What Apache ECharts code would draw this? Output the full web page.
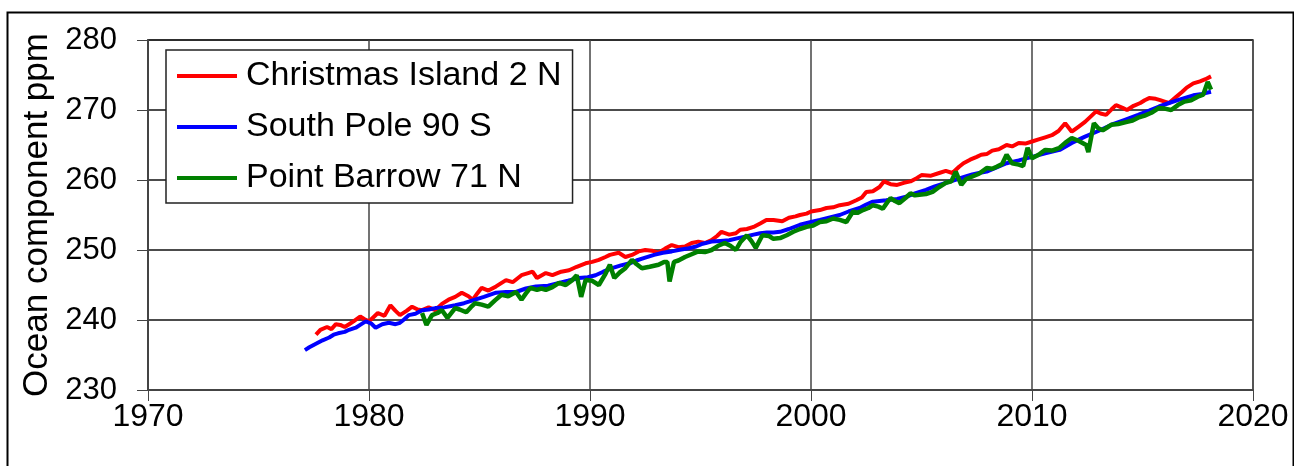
<!DOCTYPE html>
<html>
<head>
<meta charset="utf-8">
<script src="https://cdn.jsdelivr.net/npm/echarts@6/dist/echarts.min.js"></script>
<style>
html,body{margin:0;padding:0;background:#fff;}
#chart{width:1294px;height:466px;}
</style>
</head>
<body>
<div id="chart"></div>
<script>
const seriesNames = ['Christmas Island 2 N', 'South Pole 90 S', 'Point Barrow 71 N'];
const xTicks = [1970, 1980, 1990, 2000, 2010, 2020];
const yTicks = [230, 240, 250, 260, 270, 280];

const christmasIsland = [
[1977.6,237.9],[1977.8,238.6],[1978.1,239.0],[1978.3,238.7],[1978.5,239.4],[1978.7,239.3],[1978.9,239.0],
[1979.1,239.4],[1979.3,239.8],[1979.6,240.5],[1979.8,240.1],[1980.0,239.8],[1980.2,240.4],[1980.4,241.0],
[1980.7,240.6],[1980.97,242.1],[1981.2,241.3],[1981.4,240.7],[1981.7,241.3],[1981.95,241.9],[1982.2,241.5],
[1982.4,241.4],[1982.7,241.8],[1983.0,241.4],[1983.3,242.3],[1983.6,242.9],[1983.9,243.3],[1984.2,243.9],
[1984.5,243.4],[1984.7,242.9],[1984.9,243.8],[1985.1,244.6],[1985.4,244.2],[1985.75,244.8],[1986.0,245.3],
[1986.2,245.7],[1986.5,245.4],[1986.9,246.4],[1987.2,246.7],[1987.4,246.9],[1987.6,246.0],[1988.0,246.7],
[1988.3,246.4],[1988.7,246.9],[1989.05,247.1],[1989.4,247.6],[1989.8,248.1],[1990.1,248.3],[1990.4,248.6],
[1990.7,249.0],[1990.9,249.3],[1991.3,249.6],[1991.6,249.0],[1991.9,249.3],[1992.2,249.8],[1992.5,250.0],
[1992.8,249.9],[1993.1,249.6],[1993.4,250.2],[1993.7,250.7],[1994.0,250.4],[1994.3,250.5],[1994.6,251.0],
[1994.9,251.2],[1995.2,251.0],[1995.5,251.4],[1995.75,252.0],[1995.95,252.6],[1996.3,252.2],[1996.6,252.4],
[1996.8,252.9],[1997.1,253.0],[1997.4,253.3],[1997.7,253.8],[1997.98,254.3],[1998.3,254.3],[1998.7,254.1],
[1999.0,254.6],[1999.3,254.8],[1999.5,255.0],[1999.8,255.2],[2000.0,255.5],[2000.4,255.7],[2000.7,256.0],
[2001.0,256.1],[2001.3,256.4],[2001.7,256.6],[2002.05,257.1],[2002.3,257.5],[2002.5,258.3],[2002.8,258.4],
[2003.1,259.0],[2003.3,259.8],[2003.6,259.4],[2003.9,259.3],[2004.2,259.6],[2004.5,259.8],[2004.8,260.3],
[2005.0,260.7],[2005.4,260.6],[2005.8,261.0],[2006.1,261.3],[2006.4,261.0],[2006.7,261.9],[2006.9,262.4],
[2007.2,262.9],[2007.5,263.3],[2007.7,263.6],[2007.95,263.7],[2008.2,264.2],[2008.5,264.4],[2008.85,265.0],
[2009.1,264.8],[2009.4,265.3],[2009.7,265.2],[2010.0,265.5],[2010.3,265.8],[2010.6,266.1],[2010.9,266.4],
[2011.2,267.0],[2011.5,268.1],[2011.8,266.9],[2012.1,267.6],[2012.4,268.3],[2012.7,269.2],[2012.9,269.8],
[2013.1,269.5],[2013.35,269.3],[2013.6,270.1],[2013.8,270.7],[2014.1,270.3],[2014.3,270.0],[2014.6,270.6],
[2014.9,271.0],[2015.1,271.4],[2015.3,271.7],[2015.6,271.6],[2015.8,271.4],[2016.0,271.2],[2016.2,271.0],
[2016.5,271.8],[2016.8,272.6],[2017.0,273.2],[2017.3,273.8],[2017.6,274.1],[2017.85,274.4],[2018.1,274.8]
];

const southPole = [
[1977.1,235.7],[1977.3,236.1],[1977.6,236.6],[1977.9,237.1],[1978.2,237.5],[1978.4,237.9],[1978.6,238.1],
[1978.9,238.3],[1979.1,238.6],[1979.4,238.9],[1979.6,239.3],[1979.85,239.8],[1980.1,239.5],[1980.3,238.9],
[1980.6,239.4],[1980.9,239.6],[1981.2,239.4],[1981.4,239.6],[1981.6,240.1],[1981.8,240.7],[1982.1,240.9],
[1982.4,241.4],[1982.7,241.5],[1983.0,241.7],[1983.4,241.8],[1983.9,242.1],[1984.3,242.4],[1984.8,242.9],
[1985.2,243.3],[1985.75,243.9],[1986.2,244.0],[1986.65,244.0],[1987.1,244.5],[1987.55,244.8],[1988.1,244.9],
[1988.6,245.3],[1989.0,245.6],[1989.5,246.0],[1989.9,246.1],[1990.25,246.4],[1990.6,246.9],[1991.0,247.4],
[1991.4,247.8],[1991.8,248.1],[1992.1,248.5],[1992.5,248.9],[1992.9,249.3],[1993.3,249.6],[1993.7,249.8],
[1994.0,250.0],[1994.4,250.2],[1994.8,250.5],[1995.1,250.9],[1995.5,251.2],[1995.9,251.3],[1996.3,251.4],
[1996.7,251.7],[1997.0,251.9],[1997.4,252.2],[1997.7,252.4],[1998.0,252.5],[1998.3,252.5],[1998.6,252.6],
[1999.0,253.0],[1999.5,253.6],[2000.0,254.0],[2000.4,254.3],[2000.9,254.7],[2001.3,255.0],[2001.7,255.5],
[2002.2,256.0],[2002.5,256.5],[2002.8,256.9],[2003.1,257.0],[2003.4,257.1],[2003.9,257.3],[2004.3,257.6],
[2004.7,258.1],[2005.2,258.6],[2005.6,259.1],[2006.1,259.6],[2006.5,260.0],[2007.0,260.5],[2007.3,260.8],
[2007.6,261.0],[2007.95,261.2],[2008.4,261.8],[2008.85,262.4],[2009.4,262.8],[2010.0,263.3],[2010.6,263.8],
[2011.25,264.3],[2011.8,265.3],[2012.4,266.2],[2013.0,267.0],[2013.6,267.9],[2014.2,268.6],[2014.8,269.3],
[2015.3,269.9],[2015.75,270.5],[2016.2,271.0],[2016.6,271.4],[2017.0,271.8],[2017.3,272.1],[2017.7,272.3],
[2018.1,272.6]
];

const pointBarrow = [
[1982.4,241.0],[1982.6,239.3],[1982.85,240.7],[1983.1,241.0],[1983.3,241.4],[1983.55,240.3],[1983.9,241.7],
[1984.1,241.5],[1984.4,241.1],[1984.6,241.8],[1984.8,242.4],[1985.1,242.2],[1985.4,241.9],[1985.7,242.8],
[1986.0,243.6],[1986.3,243.4],[1986.65,244.0],[1986.9,242.9],[1987.1,243.8],[1987.3,244.6],[1987.6,244.3],
[1987.8,244.5],[1988.0,244.3],[1988.3,244.7],[1988.6,245.3],[1988.9,245.0],[1989.2,245.7],[1989.4,246.4],
[1989.6,243.3],[1989.8,245.7],[1990.1,245.6],[1990.4,245.0],[1990.7,246.6],[1990.9,247.9],[1991.1,246.0],
[1991.35,246.8],[1991.6,247.4],[1991.9,248.6],[1992.1,248.0],[1992.35,247.4],[1992.7,247.6],[1993.1,247.9],
[1993.35,248.3],[1993.5,248.3],[1993.6,245.5],[1993.8,248.3],[1994.0,248.5],[1994.3,249.0],[1994.6,249.4],
[1994.9,249.8],[1995.2,249.7],[1995.5,250.0],[1995.8,250.6],[1996.1,251.0],[1996.35,250.6],[1996.6,250.0],
[1996.8,251.1],[1997.1,252.1],[1997.3,251.3],[1997.5,250.3],[1997.8,252.1],[1998.1,252.0],[1998.3,251.6],
[1998.6,251.7],[1998.9,252.1],[1999.2,252.6],[1999.5,253.0],[1999.8,253.3],[2000.1,253.5],[2000.4,254.0],
[2000.7,254.1],[2001.0,254.5],[2001.3,254.3],[2001.6,254.0],[2001.9,255.5],[2002.1,255.3],[2002.35,255.7],
[2002.6,256.0],[2002.8,256.4],[2003.05,256.2],[2003.25,255.9],[2003.45,256.8],[2003.6,257.4],[2003.8,257.0],
[2004.0,256.7],[2004.3,257.5],[2004.5,258.1],[2004.7,257.8],[2004.9,257.9],[2005.2,258.0],[2005.5,258.3],
[2005.8,259.0],[2006.1,259.6],[2006.35,259.8],[2006.55,261.2],[2006.8,259.3],[2007.0,260.1],[2007.3,260.5],
[2007.6,260.9],[2007.95,261.7],[2008.2,261.6],[2008.4,261.9],[2008.65,262.3],[2008.85,263.6],[2009.1,262.4],
[2009.4,262.2],[2009.6,262.0],[2009.8,264.6],[2010.0,263.1],[2010.3,263.6],[2010.6,264.3],[2010.9,264.2],
[2011.25,264.6],[2011.5,265.3],[2011.8,266.0],[2012.1,265.6],[2012.45,265.0],[2012.55,264.0],[2012.8,268.1],
[2013.0,267.4],[2013.2,267.1],[2013.4,267.5],[2013.6,267.9],[2013.9,268.0],[2014.3,268.3],[2014.55,268.5],
[2014.8,268.9],[2015.1,269.2],[2015.4,269.6],[2015.75,270.3],[2016.0,270.2],[2016.3,270.0],[2016.6,270.7],
[2016.9,271.2],[2017.2,271.4],[2017.5,271.9],[2017.75,272.2],[2017.95,274.0],[2018.1,272.9]
];

const colors = ['#ff0000', '#0000ff', '#008000'];
const seriesData = [christmasIsland, southPole, pointBarrow];
const font = 'Liberation Sans, Arial, sans-serif';

const chart = echarts.init(document.getElementById('chart'), null, {renderer: 'canvas'});
chart.setOption({
  animation: false,
  backgroundColor: '#fff',
  grid: {left: 148, right: 41, top: 40, bottom: 76, show: true, borderColor: '#888', borderWidth: 2, backgroundColor: 'transparent'},
  legend: {
    orient: 'vertical', left: 166, top: 50,
    data: seriesNames,
    icon: 'rect', itemWidth: 60, itemHeight: 4, itemGap: 17,
    padding: [9, 11, 8, 11],
    borderColor: '#222', borderWidth: 1.5, backgroundColor: '#fff',
    textStyle: {fontFamily: font, fontSize: 34, color: '#000', lineHeight: 34, padding: [0, 0, 0, 4]}
  },
  xAxis: {
    type: 'value', min: xTicks[0], max: xTicks[xTicks.length - 1], interval: 10,
    axisLine: {show: true, onZero: false, lineStyle: {color: '#444', width: 2}},
    axisTick: {show: true, length: 11, lineStyle: {color: '#444', width: 1}},
    axisLabel: {fontFamily: font, fontSize: 32, color: '#000', margin: 11, formatter: v => String(v)},
    splitLine: {show: true, lineStyle: {color: '#444', width: 1.5}}
  },
  yAxis: {
    type: 'value', min: yTicks[0], max: yTicks[yTicks.length - 1], interval: 10,
    name: 'Ocean component ppm', nameLocation: 'middle', nameRotate: 90, nameGap: 90,
    nameTextStyle: {fontFamily: font, fontSize: 35, color: '#000'},
    axisLine: {show: true, lineStyle: {color: '#444', width: 2}},
    axisTick: {show: true, length: 11, lineStyle: {color: '#444', width: 1}},
    axisLabel: {fontFamily: font, fontSize: 31, color: '#000', margin: 31},
    splitLine: {show: true, lineStyle: {color: '#111', width: 1.5}}
  },
  graphic: [{
    type: 'rect', left: 5, top: 10, z: 100, silent: true,
    shape: {width: 1286, height: 470},
    style: {fill: 'none', stroke: '#000', lineWidth: 2}
  }],
  series: seriesNames.map((n, i) => ({
    name: n, type: 'line', data: seriesData[i], showSymbol: false, symbol: 'none',
    color: colors[i], lineStyle: {color: colors[i], width: i === 2 ? 4.5 : 4}, z: 2 + i
  }))
});
</script>
</body>
</html>
